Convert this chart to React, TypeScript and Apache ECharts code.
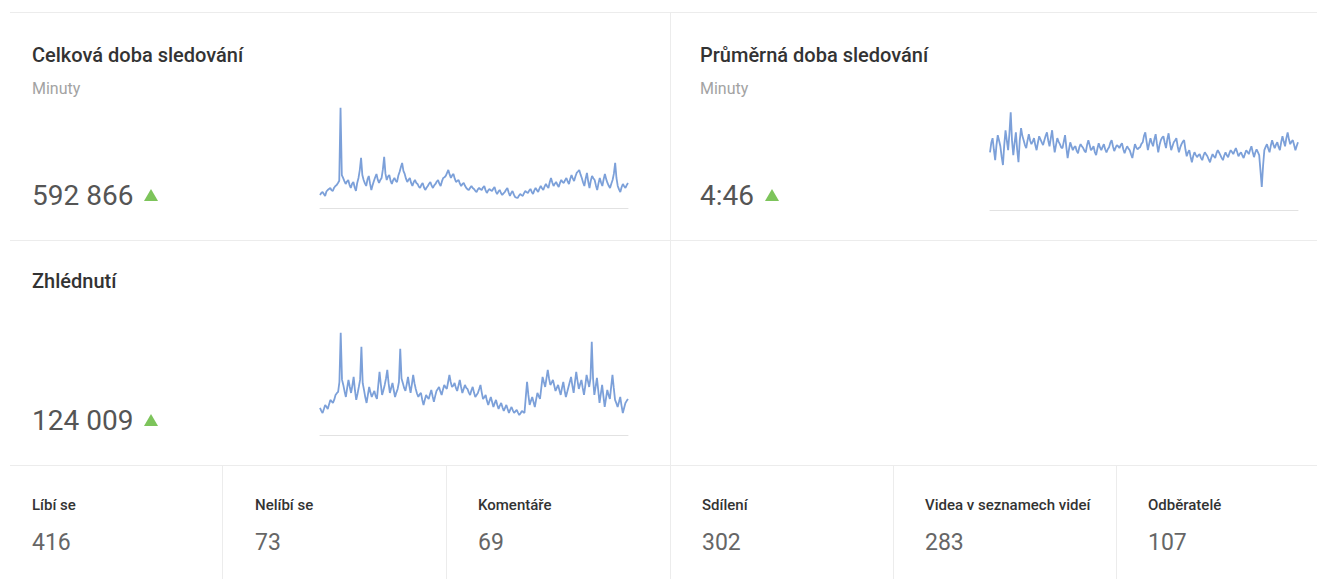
import React, { useEffect, useRef } from "react";
import * as echarts from "echarts";

// ---- data ----
const watchTimeMinutes = [
  910, 1050, 1120, 980, 840, 1150, 1260, 1330, 1400, 1240, 1190, 1420, 1540, 1610, 1750, 1900, 7000, 2300,
  2100, 1880, 1680, 1850, 1960, 1620, 1400, 1700, 1820, 1450, 1190, 1750, 2100, 2650, 3500, 2300, 1960, 1720,
  1540, 2000, 2240, 1700, 1260, 1600, 1890, 2150, 2380, 1980, 1750, 1960, 2100, 2700, 3570, 2400, 1960, 2200,
  2310, 1900, 1680, 1950, 2100, 1900, 1820, 2250, 2520, 2850, 3150, 2600, 2380, 2050, 1820, 1980, 2100, 1750,
  1540, 1800, 1960, 1760, 1680, 1500, 1400, 1620, 1750, 1450, 1260, 1420, 1540, 1700, 1820, 1560, 1400, 1580,
  1680, 1850, 1960, 1700, 1540, 1860, 2100, 2150, 2240, 2450, 2660, 2350, 2100, 2280, 2380, 2050, 1820, 1900,
  1960, 1700, 1540, 1680, 1750, 1550, 1400, 1300, 1260, 1420, 1540, 1400, 1330, 1200, 1120, 1300, 1400, 1310,
  1260, 1430, 1540, 1250, 1050, 1220, 1330, 1240, 1190, 1350, 1470, 1150, 980, 1150, 1260, 1050, 910, 1020,
  1120, 1280, 1400, 1080, 840, 1050, 1190, 950, 770, 730, 700, 860, 980, 900, 840, 1040, 1190, 1100, 1050,
  1220, 1330, 1120, 980, 1230, 1400, 1250, 1120, 1360, 1540, 1380, 1260, 1500, 1680, 1520, 1400, 1800, 2100,
  1780, 1540, 1700, 1820, 1620, 1470, 1750, 1960, 1820, 1750, 1950, 2100, 1850, 1680, 2050, 2310, 2050, 1890,
  2200, 2450, 2550, 2660, 2350, 2100, 1780, 1540, 2050, 2450, 1850, 1400, 1900, 2240, 2080, 1960, 1580, 1260,
  1720, 2100, 1780, 1540, 2000, 2380, 2020, 1750, 1550, 1400, 1700, 1960, 2400, 3150, 2100, 1540, 1300, 1120,
  1450, 1680, 1520, 1400, 1600, 1750,
];

const avgDurationSeconds = [
  249, 290, 310, 260, 215, 280, 323, 300, 275, 230, 194, 280, 344, 300, 258, 330, 421, 300, 237, 290, 335, 260,
  206, 300, 353, 320, 301, 280, 267, 300, 327, 300, 284, 295, 310, 280, 258, 290, 318, 305, 292, 280, 301, 320,
  335, 300, 275, 310, 344, 290, 249, 280, 310, 295, 284, 270, 267, 295, 323, 270, 224, 260, 292, 275, 258, 270,
  275, 255, 245, 270, 284, 275, 267, 255, 249, 280, 301, 280, 258, 265, 275, 250, 237, 265, 288, 270, 258, 272,
  284, 262, 249, 262, 271, 290, 301, 275, 254, 268, 280, 275, 267, 280, 288, 262, 245, 262, 275, 265, 258, 240,
  224, 255, 284, 270, 262, 268, 271, 285, 292, 320, 335, 295, 258, 285, 310, 290, 275, 305, 327, 285, 249, 280,
  301, 312, 318, 290, 267, 305, 331, 290, 258, 275, 292, 300, 310, 275, 249, 270, 284, 295, 301, 262, 232, 248,
  258, 230, 206, 232, 249, 238, 228, 236, 241, 225, 215, 235, 249, 240, 232, 218, 206, 226, 241, 232, 224, 245,
  258, 248, 237, 225, 215, 235, 249, 236, 228, 245, 258, 250, 241, 255, 267, 250, 232, 242, 249, 235, 224, 242,
  258, 250, 241, 260, 275, 250, 228, 248, 262, 250, 237, 170, 99, 190, 258, 272, 284, 265, 249, 278, 301, 282,
  267, 282, 292, 272, 258, 292, 318, 295, 275, 310, 335, 305, 284, 295, 301, 280, 258, 276, 292,
];

const viewsDaily = [
  230, 205, 187, 220, 255, 240, 221, 260, 298, 285, 272, 300, 340, 355, 366, 450, 867, 470, 425, 370, 323, 400,
  468, 410, 357, 420, 493, 380, 298, 350, 408, 470, 748, 440, 383, 320, 272, 340, 408, 360, 323, 350, 374, 330,
  306, 420, 536, 430, 340, 380, 425, 480, 553, 440, 357, 400, 442, 380, 323, 360, 391, 450, 731, 480, 442, 400,
  374, 430, 493, 420, 357, 430, 510, 440, 391, 350, 323, 345, 357, 300, 255, 300, 340, 320, 306, 345, 383, 330,
  281, 330, 374, 390, 408, 370, 340, 385, 425, 405, 391, 450, 510, 450, 408, 420, 442, 400, 374, 420, 468, 410,
  357, 390, 425, 400, 391, 360, 340, 380, 408, 360, 323, 340, 357, 390, 425, 360, 306, 320, 340, 290, 255, 290,
  323, 280, 238, 270, 298, 255, 221, 250, 272, 235, 204, 230, 255, 220, 187, 215, 238, 210, 187, 200, 213, 190,
  170, 185, 204, 195, 187, 320, 451, 340, 255, 290, 323, 280, 238, 300, 357, 330, 306, 400, 493, 450, 408, 480,
  553, 480, 425, 445, 468, 420, 374, 400, 425, 380, 340, 400, 451, 380, 323, 365, 408, 450, 493, 420, 357, 450,
  536, 460, 391, 430, 468, 400, 340, 420, 510, 460, 408, 480, 791, 480, 340, 410, 485, 380, 272, 350, 425, 330,
  238, 310, 383, 340, 306, 410, 510, 400, 298, 270, 238, 280, 323, 250, 187, 230, 272, 290, 306,
];

const cardTitles = ["Celková doba sledování", "Průměrná doba sledování", "Zhlédnutí"];
const cardUnits = ["Minuty", "Minuty", ""];
const cardValues = ["592 866", "4:46", "124 009"];

const statLabels = ["Líbí se", "Nelíbí se", "Komentáře", "Sdílení", "Videa v seznamech videí", "Odběratelé"];
const statValues = ["416", "73", "69", "302", "283", "107"];

// ---- layout ----
const W = 1327;
const H = 579;
const FONT = "Roboto, 'Noto Sans', sans-serif";
const LINE_COLOR = "#7ca0d9";
const DIVIDER = "#ececec";
const GREEN = "#7dc45b";

const cardPos = [
  { x: 32, title: 55, unit: 88, value: 195, tri: 144 },
  { x: 700, title: 55, unit: 88, value: 195, tri: 765 },
  { x: 32, title: 281, unit: 0, value: 420, tri: 144 },
];
const gridPos = [
  { left: 320, right: W - 628, top: 105, bottom: H - 208, max: 7200 },
  { left: 990, right: W - 1298, top: 108, bottom: H - 210, max: 440 },
  { left: 320, right: W - 628, top: 329, bottom: H - 435, max: 900 },
];
const statX = [32, 255, 478, 702, 925, 1148];
const statDividers = [222.5, 446.5, 670.5, 893.5, 1116.5];

function txt(x: number, y: number, s: string, size: number, weight: number | string, color: string) {
  return {
    type: "text",
    x,
    y,
    silent: true,
    style: {
      text: s,
      fill: color,
      fontSize: size,
      fontWeight: weight,
      fontFamily: FONT,
      align: "left",
      verticalAlign: "middle",
    },
  };
}

function ln(x1: number, y1: number, x2: number, y2: number, color = DIVIDER) {
  return {
    type: "line",
    silent: true,
    shape: { x1, y1, x2, y2 },
    style: { stroke: color, lineWidth: 1 },
  };
}

export default function App() {
  const ref = useRef<HTMLDivElement>(null);

  useEffect(() => {
    if (!ref.current) return;
    const chart = echarts.init(ref.current, null, { renderer: "svg" });
    const seriesData = [watchTimeMinutes, avgDurationSeconds, viewsDaily];

    const graphics: any[] = [];
    graphics.push(ln(10, 12.5, 1317, 12.5));
    graphics.push(ln(670.5, 12.5, 670.5, 465.5));
    graphics.push(ln(10, 240.5, 1317, 240.5));
    graphics.push(ln(10, 465.5, 1317, 465.5));
    statDividers.forEach((x) => graphics.push(ln(x, 465.5, x, H)));

    cardTitles.forEach((t, i) => {
      const p = cardPos[i];
      graphics.push(txt(p.x, p.title, t, 20, 500, "#333333"));
      if (cardUnits[i]) graphics.push(txt(p.x, p.unit, cardUnits[i], 16, 400, "#a3a3a3"));
      graphics.push(txt(p.x, p.value, cardValues[i], 28, 400, "#555555"));
      graphics.push({
        type: "polygon",
        silent: true,
        shape: {
          points: [
            [p.tri, p.value + 6],
            [p.tri + 7, p.value - 6],
            [p.tri + 14, p.value + 6],
          ],
        },
        style: { fill: GREEN },
      });
    });

    statLabels.forEach((l, i) => {
      graphics.push(txt(statX[i], 505, l, 15, 500, "#333333"));
      graphics.push(txt(statX[i], 542, statValues[i], 23, 400, "#666666"));
    });

    const option: any = {
      animation: false,
      backgroundColor: "#ffffff",
      grid: gridPos.map((g) => ({ left: g.left, right: g.right, top: g.top, bottom: g.bottom, containLabel: false })),
      xAxis: seriesData.map((d, i) => ({
        type: "category",
        gridIndex: i,
        data: d.map((_, k) => String(k + 1)),
        boundaryGap: false,
        axisLine: { show: true, lineStyle: { color: "#e2e2e2", width: 1 } },
        axisTick: { show: false },
        axisLabel: { show: false },
        splitLine: { show: false },
      })),
      yAxis: gridPos.map((g, i) => ({
        type: "value",
        gridIndex: i,
        min: 0,
        max: g.max,
        show: false,
        splitLine: { show: false },
      })),
      series: seriesData.map((d, i) => ({
        type: "line",
        xAxisIndex: i,
        yAxisIndex: i,
        data: d,
        symbol: "none",
        smooth: false,
        lineStyle: { color: LINE_COLOR, width: 1.8 },
        silent: true,
      })),
      graphic: graphics,
    };
    chart.setOption(option);
    return () => chart.dispose();
  }, []);

  return (
    <div
      ref={ref}
      style={{ position: "fixed", left: 0, top: 0, width: W, height: H, background: "#fff" }}
    />
  );
}
